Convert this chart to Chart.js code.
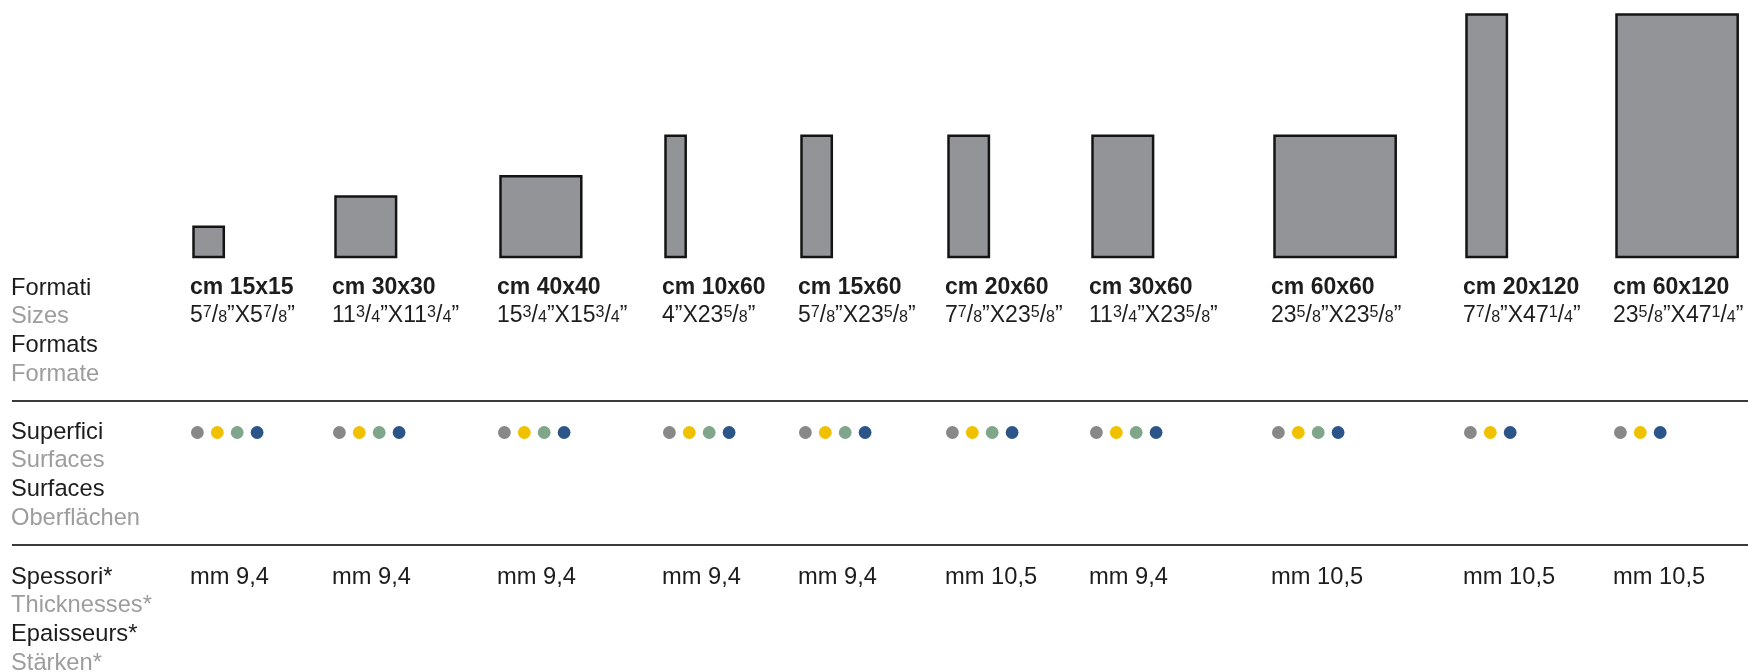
<!DOCTYPE html>
<html>
<head>
<meta charset="utf-8">
<title>Formati</title>
<script src="https://cdn.jsdelivr.net/npm/chart.js@4.4.1/dist/chart.umd.min.js"></script>
<style>
  html, body { margin: 0; padding: 0; background: #fff; }
  #page {
    position: relative; width: 1748px; height: 672px; overflow: hidden;
    font-family: 'Liberation Sans', Arial, sans-serif;
    font-size: 23px; line-height: 28.7px; color: #1d1d1b;
  }
  #tiles { position: absolute; left: 0; top: 0; }
  .txt { position: absolute; white-space: nowrap; }
  .head, .mm { font-size: 23.7px; }
  .head div:nth-child(even) { color: #9d9d9c; }
  .lab b { font-weight: bold; display: block; }
  .n { font-size: 0.7em; position: relative; top: -0.33em; line-height: 0; }
  .d { font-size: 0.7em; line-height: 0; }
  .rule { position: absolute; left: 12px; right: 0; height: 2px; background: #3a3a3a; }
</style>
</head>
<body>
<div id="page">
  <canvas id="tiles" width="1748" height="672"></canvas>
</div>
<script>
// Data
const formats = ['cm 15x15', 'cm 30x30', 'cm 40x40', 'cm 10x60', 'cm 15x60', 'cm 20x60', 'cm 30x60', 'cm 60x60', 'cm 20x120', 'cm 60x120'];
const tileWidthCm = [15, 30, 40, 10, 15, 20, 30, 60, 20, 60];
const tileHeightCm = [15, 30, 40, 60, 60, 60, 60, 60, 120, 120];
const sizesInch = ['5 7/8”X5 7/8”', '11 3/4”X11 3/4”', '15 3/4”X15 3/4”', '4”X23 5/8”', '5 7/8”X23 5/8”',
                   '7 7/8”X23 5/8”', '11 3/4”X23 5/8”', '23 5/8”X23 5/8”', '7 7/8”X47 1/4”', '23 5/8”X47 1/4”'];
const thicknessMm = [9.4, 9.4, 9.4, 9.4, 9.4, 10.5, 9.4, 10.5, 10.5, 10.5];

// surfaces available per format (1 = yes)
const surfGrey   = [1, 1, 1, 1, 1, 1, 1, 1, 1, 1];
const surfYellow = [1, 1, 1, 1, 1, 1, 1, 1, 1, 1];
const surfGreen  = [1, 1, 1, 1, 1, 1, 1, 1, 0, 0];
const surfBlue   = [1, 1, 1, 1, 1, 1, 1, 1, 1, 1];

const rowFormats = ['Formati', 'Sizes', 'Formats', 'Formate'];
const rowSurfaces = ['Superfici', 'Surfaces', 'Surfaces', 'Oberflächen'];
const rowThickness = ['Spessori*', 'Thicknesses*', 'Epaisseurs*', 'Stärken*'];

// Layout
const W = 1748, H = 672;
const PX_PER_CM = 2.02;
const BASE_PX = 257;          // tile baseline
const COL_X = [191, 333, 498, 663, 799, 946, 1090, 1272, 1464, 1614];
const TILE_INSET = 2.5;
const DOT_ROW_PX = 432.5;
const DOT_R = 6.4;
const DOT_GAP = 19.9;

const pxToX = px => px / PX_PER_CM;
const pxToY = px => (BASE_PX - px) / PX_PER_CM;

// Tiles: closed outline of each format, in cm
const tileSets = formats.map((name, i) => {
    const x0 = pxToX(COL_X[i] + TILE_INSET);
    const x1 = x0 + tileWidthCm[i];
    const h = tileHeightCm[i];
    return {
        label: name,
        data: [{x: x0, y: 0}, {x: x0, y: h}, {x: x1, y: h}, {x: x1, y: 0}, {x: x0, y: 0}],
        borderColor: '#141414',
        borderWidth: 2.5,
        backgroundColor: '#939498',
        fill: 'shape',
        pointRadius: 0,
        tension: 0,
        borderJoinStyle: 'miter',
        borderCapStyle: 'square'
    };
});

// Surface dots
const surfaces = [
    {label: 'grey', color: '#888888', avail: surfGrey},
    {label: 'yellow', color: '#efc100', avail: surfYellow},
    {label: 'green', color: '#7fa68a', avail: surfGreen},
    {label: 'blue', color: '#2b5589', avail: surfBlue}
];
const dotSets = surfaces.map((s, si) => {
    const pts = [];
    formats.forEach((f, i) => {
        if (!s.avail[i]) return;
        // position = number of surfaces before this one in the column
        let k = 0;
        for (let j = 0; j < si; j++) if (surfaces[j].avail[i]) k++;
        pts.push({x: pxToX(COL_X[i] + DOT_R + k * DOT_GAP), y: pxToY(DOT_ROW_PX)});
    });
    return {
        label: s.label,
        data: pts,
        showLine: false,
        pointRadius: DOT_R,
        pointBorderWidth: 0,
        pointBackgroundColor: s.color,
        pointBorderColor: s.color
    };
});

new Chart(document.getElementById('tiles'), {
    type: 'line',
    data: {datasets: tileSets.concat(dotSets)},
    options: {
        responsive: false,
        animation: false,
        events: [],
        layout: {padding: 0, autoPadding: false},
        plugins: {legend: {display: false}, tooltip: {enabled: false}},
        scales: {
            x: {type: 'linear', min: 0, max: W / PX_PER_CM, display: false},
            y: {type: 'linear', min: -(H - BASE_PX) / PX_PER_CM, max: BASE_PX / PX_PER_CM, display: false}
        }
    }
});

// Text
const page = document.getElementById('page');

function addText(cls, left, top, html) {
    const el = document.createElement('div');
    el.className = 'txt ' + cls;
    el.style.left = left + 'px';
    el.style.top = top + 'px';
    el.innerHTML = html;
    page.appendChild(el);
}

function fractionHtml(s) {
    return s.replace(/(\d+) (\d+)\/(\d+)/g, '$1<span class="n">$2</span>/<span class="d">$3</span>');
}

function addRule(top) {
    const el = document.createElement('div');
    el.className = 'rule';
    el.style.top = top + 'px';
    page.appendChild(el);
}

addText('head', 11, 272.5, rowFormats.map(t => `<div>${t}</div>`).join(''));
addText('head', 11, 416.5, rowSurfaces.map(t => `<div>${t}</div>`).join(''));
addText('head', 11, 561.5, rowThickness.map(t => `<div>${t}</div>`).join(''));

formats.forEach((name, i) => {
    addText('lab', COL_X[i] - 1, 271.7, `<b>${name}</b><div>${fractionHtml(sizesInch[i])}</div>`);
    addText('mm', COL_X[i] - 1, 561.5, 'mm ' + thicknessMm[i].toFixed(1).replace('.', ','));
});

addRule(399.7);
addRule(543.7);
</script>
</body>
</html>
